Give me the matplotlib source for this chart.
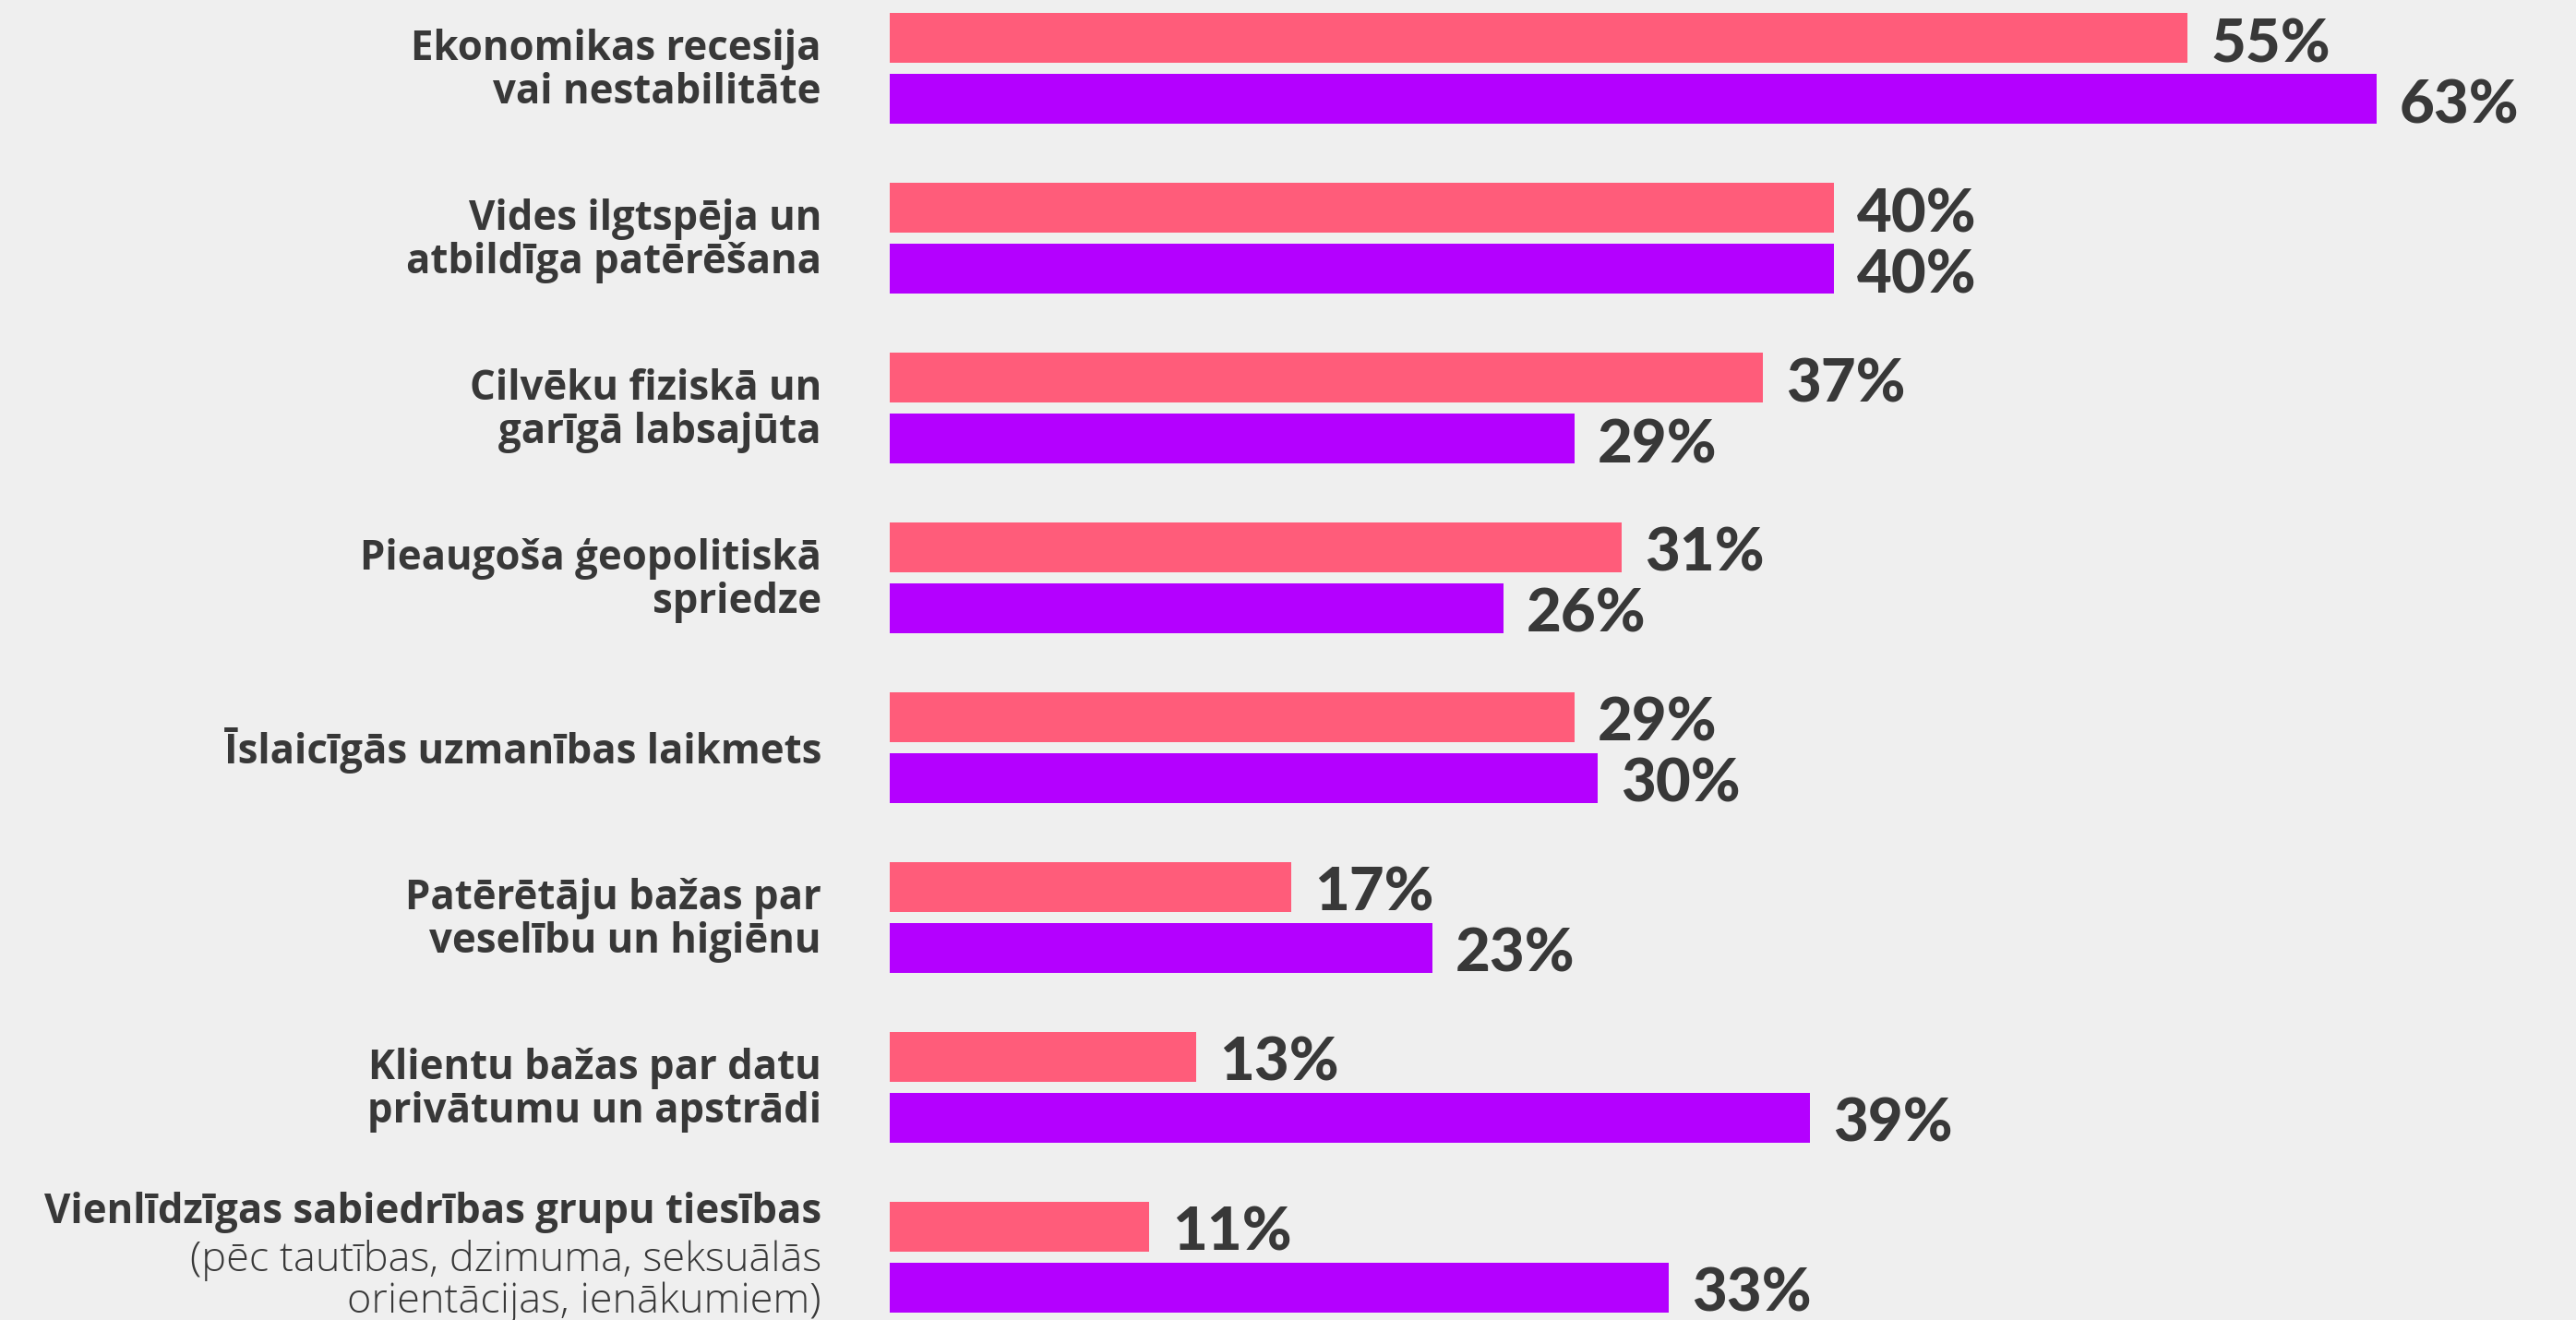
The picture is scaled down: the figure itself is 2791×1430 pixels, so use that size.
import matplotlib.pyplot as plt
import numpy as np

# data
labels = [
    'Ekonomikas recesija\nvai nestabilitāte',
    'Vides ilgtspēja un\natbildīga patērēšana',
    'Cilvēku fiziskā un\ngarīgā labsajūta',
    'Pieaugoša ģeopolitiskā\nspriedze',
    'Īslaicīgās uzmanības laikmets',
    'Patērētāju bažas par\nveselību un higiēnu',
    'Klientu bažas par datu\nprivātumu un apstrādi',
    'Vienlīdzīgas sabiedrības grupu tiesības',
]
sublabels = ['', '', '', '', '', '', '',
             '(pēc tautības, dzimuma, seksuālās\norientācijas, ienākumiem)']
series_a = [55, 40, 37, 31, 29, 17, 13, 11]
series_b = [63, 40, 29, 26, 30, 23, 39, 33]

BG = '#efefef'
PINK = '#ff5c7a'
PURPLE = '#b400ff'
TEXT = '#383838'
LABEL_FONT = ['Open Sans', 'DejaVu Sans']
VALUE_FONT = ['Lato', 'DejaVu Sans']

plt.rcParams['font.family'] = LABEL_FONT

W, H, DPI = 2791, 1430, 100
fig = plt.figure(figsize=(W / DPI, H / DPI), dpi=DPI, facecolor=BG)

# axes from bar origin to right edge, full height
x0 = 964
ax = fig.add_axes([x0 / W, 0, 1 - x0 / W, 1])
ax.set_facecolor(BG)

px_per_pct = 25.57
spacing = 184.0
first_center = 74.0
ax.set_xlim(0, (W - x0) / px_per_pct)
ax.set_ylim((H - first_center) / spacing, -first_center / spacing)

bar_h = 54 / spacing
off = 33 / spacing
y = np.arange(len(labels))

ax.barh(y - off, series_a, height=bar_h, color=PINK)
ax.barh(y + off, series_b, height=bar_h, color=PURPLE)

for i in range(len(labels)):
    for val, yy in ((series_a[i], y[i] - off), (series_b[i], y[i] + off)):
        ax.annotate(f'{val}%', xy=(val, yy + bar_h / 2), xytext=(25, 1),
                    textcoords='offset pixels', ha='left', va='baseline',
                    fontsize=47, fontweight='black', color=TEXT,
                    family=VALUE_FONT)

    if sublabels[i]:
        ax.annotate(labels[i], xy=(0, y[i]), xytext=(-74, 37),
                    textcoords='offset pixels', ha='right', va='baseline',
                    fontsize=31.5, fontweight='bold', color=TEXT)
        ax.annotate(sublabels[i], xy=(0, y[i]), xytext=(-74, -60),
                    textcoords='offset pixels', ha='right', va='baseline',
                    fontsize=32.5, fontweight='light', color=TEXT,
                    linespacing=1.0)
    else:
        ax.annotate(labels[i], xy=(0, y[i]), xytext=(-74, -3),
                    textcoords='offset pixels', ha='right', va='center',
                    fontsize=31.5, fontweight='bold', color=TEXT,
                    linespacing=1.05)

ax.axis('off')
fig.savefig('out.png', dpi=DPI, facecolor=BG)
